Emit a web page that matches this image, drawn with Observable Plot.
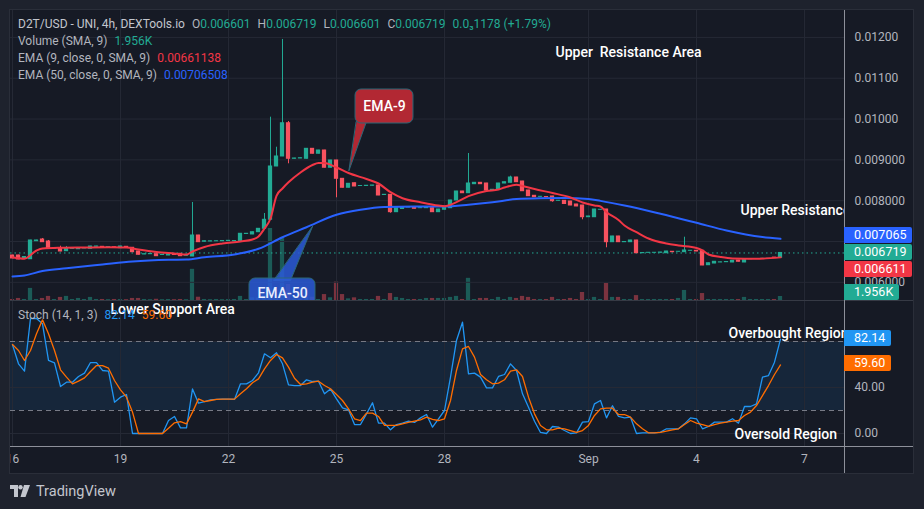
<!DOCTYPE html>
<html>
<head>
<meta charset="utf-8">
<script src="https://cdn.jsdelivr.net/npm/d3@7"></script>
<script src="https://cdn.jsdelivr.net/npm/@observablehq/plot@0.6"></script>
<style>
html,body{margin:0;padding:0;background:#1e222d;}
body{width:924px;height:509px;position:relative;overflow:hidden;font-family:Roboto,"Noto Sans",sans-serif;}
#frame{position:absolute;left:10px;top:10px;width:903px;height:463px;background:#161a25;overflow:hidden;}
#border{position:absolute;left:9px;top:9px;width:903px;height:463px;border:1px solid #2a2e39;pointer-events:none;}
.layer{position:absolute;left:0;width:903px;}
.sep{position:absolute;}
.legend{position:absolute;left:8px;font-size:12px;color:#b2b5be;white-space:nowrap;line-height:17px;}
.legend span.gap{margin-left:7px;}
.tag{position:absolute;left:834px;height:16px;line-height:16px;font-size:12.5px;color:#fff;padding:0 6px 0 10px;border-radius:0 2px 2px 0;white-space:nowrap;}
#logo{position:absolute;left:10px;top:482px;height:18px;display:flex;align-items:center;color:#c3c6ce;font-size:14.5px;}
</style>
</head>
<body>
<div id="frame">
  <div id="volLayer" class="layer" style="top:0;height:290px"></div>
  <div id="mainLayer" class="layer" style="top:0;height:290px"></div>
  <div id="stochLayer" class="layer" style="top:290px;height:173px"></div>
  <div class="sep" style="left:0;top:290px;width:903px;height:1px;background:#363a45"></div>
  <div class="sep" style="left:0;top:436px;width:903px;height:1px;background:#8d909a"></div>
  <div class="sep" style="left:834px;top:0;width:1px;height:463px;background:#8d909a"></div>
  <div id="legend" class="legend" style="top:6px"></div>
  <div id="stochLegend" class="legend" style="top:297px"></div>
</div>
<div id="border"></div>
<div id="logo">
  <svg width="22" height="12" viewBox="0 0 22 12" style="margin-right:4px">
    <path d="M0,0 H8 V12 H4 V4 H0 Z" fill="#c3c6ce"/>
    <circle cx="10.5" cy="2.2" r="2.2" fill="#c3c6ce"/>
    <path d="M14,0 H20 L15.5,12 H10.5 Z" fill="#c3c6ce"/>
  </svg>
  <span>TradingView</span>
</div>
<script>
// ---------- DATA ----------
const DAY0 = Date.UTC(2023, 7, 16);          // first candle: Aug 16, 00:00
const H4 = 4 * 3600 * 1000;                  // 4h candles

const open = [
0.006657,0.006657,0.006584,0.006566,0.007007,0.007049,0.007000,0.006821,0.006836,0.006762,
0.006821,0.006811,0.006829,0.006821,0.006870,0.006870,0.006860,0.006860,0.006836,0.006870,
0.006846,0.006755,0.006682,0.006689,0.006689,0.006669,0.006657,0.006674,0.006699,0.006650,
0.006633,0.007147,0.006993,0.007000,0.007005,0.007007,0.007012,0.007007,0.007007,0.007184,
0.007172,0.007228,0.007311,0.007532,0.008838,0.009083,0.009898,0.009026,0.009034,0.009026,
0.009271,0.009149,0.009230,0.008806,0.008985,0.008536,0.008316,0.008428,0.008360,0.008360,
0.008365,0.008372,0.008139,0.008144,0.007718,0.007796,0.007833,0.007840,0.007816,0.007816,
0.007816,0.007718,0.007777,0.007816,0.008005,0.008225,0.008183,0.008404,0.008438,0.008421,
0.008262,0.008267,0.008421,0.008438,0.008568,0.008470,0.008250,0.008120,0.008095,0.008090,
0.008103,0.007997,0.007997,0.007980,0.007907,0.007882,0.007595,0.007595,0.007777,0.007784,
0.006983,0.007123,0.006983,0.006983,0.007025,0.006713,0.006723,0.006723,0.006723,0.006713,
0.006748,0.006748,0.006738,0.006772,0.006772,0.006772,0.006419,0.006461,0.006486,0.006493,
0.006486,0.006535,0.006486,0.006566,0.006571,0.006576,0.006576,0.006606,0.006601];

const high = [
0.006662,0.006665,0.006625,0.007030,0.007030,0.007074,0.007025,0.006835,0.006885,0.006878,
0.006832,0.006845,0.006840,0.006882,0.006882,0.006874,0.006868,0.006863,0.006882,0.006873,
0.006850,0.006760,0.006692,0.006697,0.006692,0.006677,0.006692,0.006677,0.006702,0.006660,
0.007956,0.007150,0.007010,0.007008,0.007010,0.007015,0.007020,0.007015,0.007192,0.007192,
0.007231,0.007314,0.007686,0.010046,0.009310,0.011950,0.009940,0.009037,0.009044,0.009274,
0.009274,0.009233,0.009233,0.008988,0.008988,0.008539,0.008417,0.008431,0.008368,0.008368,
0.008375,0.008375,0.008147,0.008147,0.007819,0.007848,0.007840,0.007843,0.007824,0.007824,
0.007819,0.007787,0.007853,0.008008,0.008228,0.008228,0.009156,0.008441,0.008441,0.008424,
0.008270,0.008424,0.008456,0.008600,0.008571,0.008473,0.008253,0.008123,0.008103,0.008093,
0.008106,0.008005,0.008000,0.007983,0.007910,0.007885,0.007616,0.007787,0.007785,0.007787,
0.007126,0.007126,0.006991,0.007028,0.007028,0.006721,0.006728,0.006728,0.006733,0.006758,
0.006751,0.006752,0.007105,0.006776,0.006775,0.006775,0.006471,0.006506,0.006493,0.006501,
0.006530,0.006538,0.006569,0.006574,0.006575,0.006580,0.006580,0.006608,0.006719];

const low = [
0.006580,0.006555,0.006580,0.006560,0.007005,0.006980,0.006815,0.006815,0.006750,0.006758,
0.006818,0.006808,0.006826,0.006818,0.006867,0.006855,0.006857,0.006850,0.006833,0.006857,
0.006735,0.006670,0.006679,0.006686,0.006636,0.006666,0.006654,0.006666,0.006636,0.006647,
0.006630,0.006980,0.006990,0.006997,0.007002,0.007004,0.007009,0.007004,0.007004,0.007181,
0.007169,0.007225,0.007308,0.007529,0.008835,0.009080,0.008904,0.009023,0.009031,0.009023,
0.009146,0.009146,0.008803,0.008803,0.008071,0.008313,0.008313,0.008345,0.008357,0.008357,
0.008362,0.008124,0.008136,0.007693,0.007715,0.007793,0.007830,0.007798,0.007813,0.007813,
0.007715,0.007715,0.007774,0.007813,0.008002,0.008180,0.008180,0.008401,0.008401,0.008247,
0.008259,0.008264,0.008418,0.008435,0.008450,0.008229,0.008107,0.008082,0.008092,0.008082,
0.007963,0.007994,0.007916,0.007879,0.007855,0.007532,0.007592,0.007592,0.007774,0.006846,
0.006980,0.006980,0.006980,0.006980,0.006710,0.006710,0.006720,0.006720,0.006720,0.006710,
0.006735,0.006745,0.006735,0.006769,0.006752,0.006409,0.006416,0.006458,0.006483,0.006490,
0.006483,0.006500,0.006483,0.006563,0.006568,0.006573,0.006573,0.006598,0.006601];

const close = [
0.006584,0.006559,0.006620,0.007025,0.007025,0.006983,0.006821,0.006829,0.006755,0.006821,
0.006829,0.006841,0.006836,0.006878,0.006878,0.006858,0.006865,0.006853,0.006878,0.006860,
0.006738,0.006674,0.006689,0.006694,0.006640,0.006674,0.006689,0.006669,0.006640,0.006657,
0.007147,0.006983,0.007007,0.007005,0.007007,0.007012,0.007017,0.007012,0.007189,0.007189,
0.007228,0.007311,0.007532,0.008838,0.009083,0.009898,0.009026,0.009034,0.009041,0.009271,
0.009149,0.009230,0.008806,0.008985,0.008536,0.008316,0.008414,0.008348,0.008360,0.008365,
0.008372,0.008127,0.008144,0.007718,0.007816,0.007845,0.007833,0.007801,0.007816,0.007821,
0.007718,0.007784,0.007850,0.008005,0.008225,0.008183,0.008421,0.008438,0.008404,0.008250,
0.008267,0.008421,0.008453,0.008568,0.008453,0.008232,0.008110,0.008085,0.008095,0.008085,
0.007987,0.007997,0.007919,0.007882,0.007858,0.007595,0.007613,0.007784,0.007777,0.006983,
0.007123,0.006983,0.006988,0.007025,0.006713,0.006718,0.006723,0.006723,0.006730,0.006755,
0.006738,0.006748,0.006780,0.006772,0.006755,0.006412,0.006468,0.006503,0.006490,0.006498,
0.006527,0.006503,0.006566,0.006571,0.006571,0.006576,0.006576,0.006601,0.006719];

// volume in thousands
const volumeK = [
0.5,1.0,0.5,5.9,0.5,1.0,2.0,0.5,1.5,2.0,
0.5,1.0,0.5,1.5,0.5,0.5,0.4,0.5,0.5,0.4,
1.0,1.0,0.5,0.4,0.6,0.4,0.5,0.4,0.5,0.4,
15.2,1.6,0.5,0.4,0.5,0.4,0.5,0.5,2.0,0.5,
1.3,1.3,2.4,35.1,0.7,30.3,7.8,0.5,0.5,1.6,
1.6,0.5,2.9,1.3,9.0,2.9,0.8,1.3,0.5,0.5,
0.5,2.0,0.5,3.4,1.5,1.0,0.5,0.5,0.5,1.0,
1.0,1.0,1.0,1.5,2.0,0.5,10.8,0.5,1.0,1.0,
0.5,1.5,0.5,1.5,1.0,2.0,1.5,0.5,0.5,0.5,
1.5,0.5,0.5,1.0,0.5,3.9,0.5,1.5,0.5,8.3,
1.5,1.5,0.5,0.5,2.4,0.5,0.5,0.5,0.5,0.5,
0.5,1.0,4.9,0.5,0.5,3.4,0.5,0.5,0.5,0.5,
0.5,0.5,1.5,0.5,0.5,0.5,0.5,0.5,1.956];

// EMA 9 (red) sampled at candle indices
const ema9Idx = [0,2,4,5,8,12,16,19,21,24,27,29,30,32,35,38,40,41,42,43,44,45,46,48,50,51,52,54,56,59,61,63,65,68,71,72,74,76,79,81,82,84,85,87,90,93,95,97,98,99,101,102,104,106,109,111,114,115,116,118,120,124,128];
const ema9 = [0.006615,0.006579,0.006780,0.006829,0.006846,0.006853,0.006858,0.006853,0.006804,0.006743,0.006706,0.006682,0.006755,0.006865,0.006951,0.007000,0.007049,0.007123,0.007318,0.007563,0.008120,0.008299,0.008450,0.008691,0.008874,0.008923,0.008923,0.008813,0.008678,0.008531,0.008421,0.008208,0.008061,0.007963,0.007882,0.007865,0.007963,0.008110,0.008237,0.008274,0.008323,0.008389,0.008360,0.008286,0.008188,0.008078,0.007956,0.007882,0.007858,0.007718,0.007527,0.007392,0.007229,0.007074,0.006951,0.006902,0.006841,0.006780,0.006682,0.006620,0.006584,0.006576,0.006611];

// EMA 50 (blue) sampled at candle indices
const ema50Idx = [0,2,5,9,15,20,26,29,32,37,41,45,49,54,58,62,67,72,76,80,84,88,92,96,98,102,108,114,119,125,128];
const ema50 = [0.006143,0.006167,0.006277,0.006346,0.006437,0.006510,0.006552,0.006559,0.006615,0.006682,0.006821,0.007105,0.007350,0.007654,0.007777,0.007845,0.007858,0.007858,0.007899,0.007960,0.008040,0.008061,0.008066,0.008041,0.007995,0.007882,0.007679,0.007458,0.007270,0.007110,0.007066];

const ema9Last = 0.00661138, ema50Last = 0.00706508;
const changeText = "0.0\u20831178", changePct = "+1.79%";

// Stochastic (14,1,3)
const stochK = [
77.1,60.6,54.2,100,100,95.4,63.5,61.4,40.9,44.6,
44.6,49.6,52.5,61.7,61.7,54.8,54.2,27.2,31.6,33.9,
0,0,0,0,0,0,11.3,14.8,4.9,4.9,
38.8,26.4,27.8,29.3,29.6,29.9,29.9,29.6,43.2,43.2,
46.1,52.8,69.3,65.8,70.2,60.6,42.3,41.7,41.7,46.7,
45.2,45.5,34.5,38.6,30.1,22.3,20.6,7.8,7.8,17.1,
26.7,9,9,3.2,7.8,9,10.7,9.6,13.6,16.5,
5.5,12.8,20,49,80.9,96.8,51.9,52.5,49,39.7,
39.7,49.6,51.3,60.6,54.8,34.5,22.9,10.7,0.9,0,
6.1,5.5,2.6,0,0.6,9.9,10.4,25.8,28.7,13.6,
24.1,14.8,13.6,14.2,0,0.6,0.6,0.6,1.2,4.1,
4.1,4.1,8.4,13.6,12.8,4.1,6.1,9.9,9.9,9.9,
12.8,9,23.5,23.5,25.8,49,50.4,62,82.14];
const stochD = [
77.4,72.2,63.5,72.2,86.7,98.8,86.7,72.2,55.4,49,
43.2,45.5,48.4,53.9,59.1,59.1,56.8,46.1,38,31.6,
18.6,0,0,0,0,0,4.6,9.3,10.4,8.4,
18.6,30.1,27.8,28.7,29.6,29.9,29.9,29.9,34.5,38.9,
44.1,47.5,56.2,63.5,68.7,65.8,57.7,48.1,42.6,43.2,
44.6,45.5,41.7,38.9,33.9,28.7,21.4,12.8,11.3,17.7,
17.7,14.8,7,7,7,8.4,9.6,10.7,11.9,14.2,
12.2,11.3,12.8,28.7,54.8,73.6,75.7,66.4,51.3,46.7,
43.2,43.8,46.7,54.2,55.4,49.6,31.6,17.1,7,3.2,
3.2,4.6,4.1,2.6,0.9,2.6,7,15.7,21.4,22,
22,16.5,16.5,14.2,8.4,4.1,0.6,0.6,0.9,2,
3.2,4.1,7.8,11.3,9,7.8,6.1,7.8,9,9.9,
10.7,11.3,15.7,18.6,24.3,33,41.7,51.3,59.6];

const priceGrid = [0.006,0.007,0.008,0.009,0.010,0.011,0.012];
const priceLabels = [0.006,0.008,0.009,0.010,0.011,0.012];   // 0.007000 sits under the EMA-50 tag
const stochGrid = [0,40,80];
const stochLabels = [0,40];                                   // 80.00 sits under the %K tag
const xTickDates = [
  new Date(Date.UTC(2023,7,16)), new Date(Date.UTC(2023,7,19)), new Date(Date.UTC(2023,7,22)),
  new Date(Date.UTC(2023,7,25)), new Date(Date.UTC(2023,7,28)), new Date(Date.UTC(2023,8,1)),
  new Date(Date.UTC(2023,8,4)), new Date(Date.UTC(2023,8,7))];
const xTickLabels = ["16","19","22","25","28","Sep","4","7"];

// text annotations (candle index position, value)
const priceNotes = [
  {i: 90.5, p: 0.0116305, text: "Upper  Resistance Area"},
  {i: 121.33, p: 0.0077595, text: "Upper Resistance Area"}];
const stochNotes = [
  {i: 16.33, v: 107.8, text: "Lower Support Area"},
  {i: 119.33, v: 87.0, text: "Overbought Region"},
  {i: 120.33, v: -0.9, text: "Oversold Region"}];
// callouts: box [i1,i2,p1,p2], pointer polygon, label position
const ema9Box = [{i1: 57.17, i2: 66.83, p1: 0.009891, p2: 0.010724}];
const ema9Ptr = [{i: 57.33, p: 0.00994}, {i: 59.0, p: 0.00994}, {i: 56.08, p: 0.0087395}];
const ema9Lbl = [{i: 62.0, p: 0.0103075, text: "EMA-9"}];
const ema50Box = [{i1: 39.5, i2: 50.5, p1: 0.0054075, p2: 0.0060935}];
const ema50Ptr = [{i: 43.55, p: 0.0060445}, {i: 46.33, p: 0.0060445}, {i: 50.0, p: 0.0073675}];
const ema50Lbl = [{i: 45.0, p: 0.005726, text: "EMA-50"}];

// ---------- BUILD ----------
const at = i => new Date(DAY0 + i * H4);
const UP = "#22ab94", DN = "#f7525f";
const halfBody = 85 * 60000;
const candles = open.map((o, i) => ({
  t: at(i), t1: new Date(+at(i) - halfBody), t2: new Date(+at(i) + halfBody),
  o, h: high[i], l: low[i], c: close[i], v: volumeK[i], col: close[i] >= o ? UP : DN
}));
const e9 = ema9Idx.map((k, j) => ({t: at(k), v: ema9[j]}));
const e50 = ema50Idx.map((k, j) => ({t: at(k), v: ema50[j]}));
const kLine = stochK.map((v, i) => ({t: at(i), v}));
const dLine = stochD.map((v, i) => ({t: at(i), v}));
const xDomain = [new Date(DAY0 - 80 * 60000), new Date(DAY0 + 138.6667 * H4)];
const FONT = "Roboto, 'Noto Sans', sans-serif";
const common = {
  width: 903, marginLeft: 0, marginRight: 69,
  style: {background: "transparent", color: "#b2b5be", fontSize: "12px", fontFamily: FONT}
};
const GRID = "#252935";
const box = (data, fill, stroke, op) => Plot.rect(data, {
  x1: d => at(d.i1), x2: d => at(d.i2), y1: "p1", y2: "p2",
  fill, fillOpacity: op, stroke, strokeWidth: 1, rx: 6, clip: true});
const ptr = (data, fill, stroke, op) => Plot.line(data, {
  x: d => at(d.i), y: "p", fill, fillOpacity: op, stroke, strokeWidth: 1, curve: "linear-closed", clip: true});

const volChart = Plot.plot({
  ...common, height: 290, marginTop: 0, marginBottom: 0,
  x: {type: "utc", domain: xDomain, axis: null},
  y: {domain: [0, d3.max(volumeK) * 290 / 72], axis: null},
  marks: [
    Plot.rect(candles, {x1: "t1", x2: "t2", y1: 0, y2: "v", fill: "col", fillOpacity: 0.45})
  ]
});
document.getElementById("volLayer").appendChild(volChart);

const mainChart = Plot.plot({
  ...common, height: 290, marginTop: 0, marginBottom: 0,
  x: {type: "utc", domain: xDomain, axis: null},
  y: {domain: [0.0055545, 0.0126595]},
  marks: [
    Plot.gridY(priceGrid, {stroke: GRID, strokeOpacity: 1}),
    Plot.gridX(xTickDates, {stroke: GRID, strokeOpacity: 1}),
    Plot.axisY(priceLabels, {anchor: "right", tickFormat: d3.format(".4r"), tickSize: 0, tickPadding: 10, label: null, fontSize: 12}),
    Plot.ruleY([close[close.length - 1]], {stroke: UP, strokeDasharray: "1.5,3", strokeWidth: 1}),
    Plot.ruleX(candles, {x: "t", y1: "l", y2: "h", stroke: "col", strokeWidth: 1}),
    Plot.rect(candles, {x1: "t1", x2: "t2", y1: "o", y2: "c", fill: "col", insetTop: -0.5, insetBottom: -0.5}),
    Plot.line(e50, {x: "t", y: "v", stroke: "#2962ff", strokeWidth: 2, curve: "monotone-x"}),
    Plot.line(e9, {x: "t", y: "v", stroke: "#f23645", strokeWidth: 2, curve: "monotone-x"}),
    Plot.text(priceNotes, {x: d => at(d.i), y: "p", text: "text", fill: "#ffffff", fontSize: 14, fontWeight: 500, textAnchor: "start", clip: true}),
    ptr(ema9Ptr, "#b22833", "#2c6777", 1),
    box(ema9Box, "#b22833", "#2c6777", 1),
    Plot.text(ema9Lbl, {x: d => at(d.i), y: "p", text: "text", fill: "#ffffff", fontSize: 14, fontWeight: 500}),
    ptr(ema50Ptr, "#2a5bd7", "#2c6777", 0.85),
    box(ema50Box, "#2a5bd7", "#2c6777", 0.85),
    Plot.text(ema50Lbl, {x: d => at(d.i), y: "p", text: "text", fill: "#e8eeff", fontSize: 14, fontWeight: 500, clip: true})
  ]
});
document.getElementById("mainLayer").appendChild(mainChart);

const stochChart = Plot.plot({
  ...common, height: 173, marginTop: 0, marginBottom: 27,
  x: {type: "utc", domain: xDomain},
  y: {domain: [-11.30, 115.65]},
  marks: [
    Plot.rect([{y1: 20, y2: 80}], {x1: () => xDomain[0], x2: () => xDomain[1], y1: "y1", y2: "y2", fill: "#2196f3", fillOpacity: 0.1}),
    Plot.gridY(stochGrid, {stroke: GRID, strokeOpacity: 1}),
    Plot.gridX(xTickDates, {stroke: GRID, strokeOpacity: 1}),
    Plot.ruleY([20, 80], {stroke: "#787b86", strokeDasharray: "5,4", strokeWidth: 1}),
    Plot.line(kLine, {x: "t", y: "v", stroke: "#2196f3", strokeWidth: 1.3}),
    Plot.line(dLine, {x: "t", y: "v", stroke: "#ff6d00", strokeWidth: 1.3}),
    Plot.axisY(stochLabels, {anchor: "right", tickFormat: d3.format(".2f"), tickSize: 0, tickPadding: 10, label: null, fontSize: 12}),
    Plot.axisX(xTickDates, {anchor: "bottom", tickSize: 0, tickPadding: 8, label: null, fontSize: 12,
      tickFormat: d => xTickLabels[xTickDates.findIndex(t => +t === +d)]}),
    Plot.text(stochNotes, {x: d => at(d.i), y: "v", text: "text", fill: "#ffffff", fontSize: 14, fontWeight: 500, textAnchor: "start", clip: true})
  ]
});
document.getElementById("stochLayer").appendChild(stochChart);

// ---------- LEGENDS ----------
const fmt = d3.format(".4r");
const last = candles[candles.length - 1];
document.getElementById("legend").innerHTML =
  `<div><span style="color:#c3c6ce">D2T/USD - UNI, 4h, DEXTools.io</span>` +
  `<span class="gap">O</span><span style="color:${UP}">${fmt(last.o)}</span>` +
  `<span class="gap">H</span><span style="color:${UP}">${fmt(last.h)}</span>` +
  `<span class="gap">L</span><span style="color:${UP}">${fmt(last.l)}</span>` +
  `<span class="gap">C</span><span style="color:${UP}">${fmt(last.c)}</span>` +
  `<span class="gap" style="color:${UP}">${changeText} (${changePct})</span></div>` +
  `<div>Volume (SMA, 9)<span class="gap" style="color:${UP}">${last.v.toFixed(3)}K</span></div>` +
  `<div>EMA (9, close, 0, SMA, 9)<span class="gap" style="color:#f23645">${ema9Last}</span></div>` +
  `<div>EMA (50, close, 0, SMA, 9)<span class="gap" style="color:#2962ff">${ema50Last}</span></div>`;
document.getElementById("stochLegend").innerHTML =
  `Stoch (14, 1, 3)<span class="gap" style="color:#2196f3">${stochK[stochK.length-1].toFixed(2)}</span>` +
  `<span class="gap" style="color:#ff6d00">${stochD[stochD.length-1].toFixed(2)}</span>`;

// ---------- RIGHT-AXIS TAGS ----------
const frame = document.getElementById("frame");
function tag(center, text, bg) {
  const d = document.createElement("div");
  d.className = "tag"; d.style.top = (center - 8) + "px"; d.style.background = bg; d.textContent = text;
  frame.appendChild(d);
}
const ys = mainChart.scale("y");
const cG = ys.apply(last.c);
tag(Math.min(ys.apply(ema50Last), cG - 17), fmt(ema50Last), "#2962ff");
tag(cG, fmt(last.c), UP);
tag(Math.max(ys.apply(ema9Last), cG + 17), fmt(ema9Last), "#f23645");
tag(Math.min(volChart.scale("y").apply(last.v), 282), last.v.toFixed(3) + "K", UP);
const ss = stochChart.scale("y");
tag(290 + ss.apply(stochK[stochK.length-1]) - 1, stochK[stochK.length-1].toFixed(2), "#2196f3");
tag(290 + ss.apply(stochD[stochD.length-1]) - 1, stochD[stochD.length-1].toFixed(2), "#ff6d00");
</script>
</body>
</html>
